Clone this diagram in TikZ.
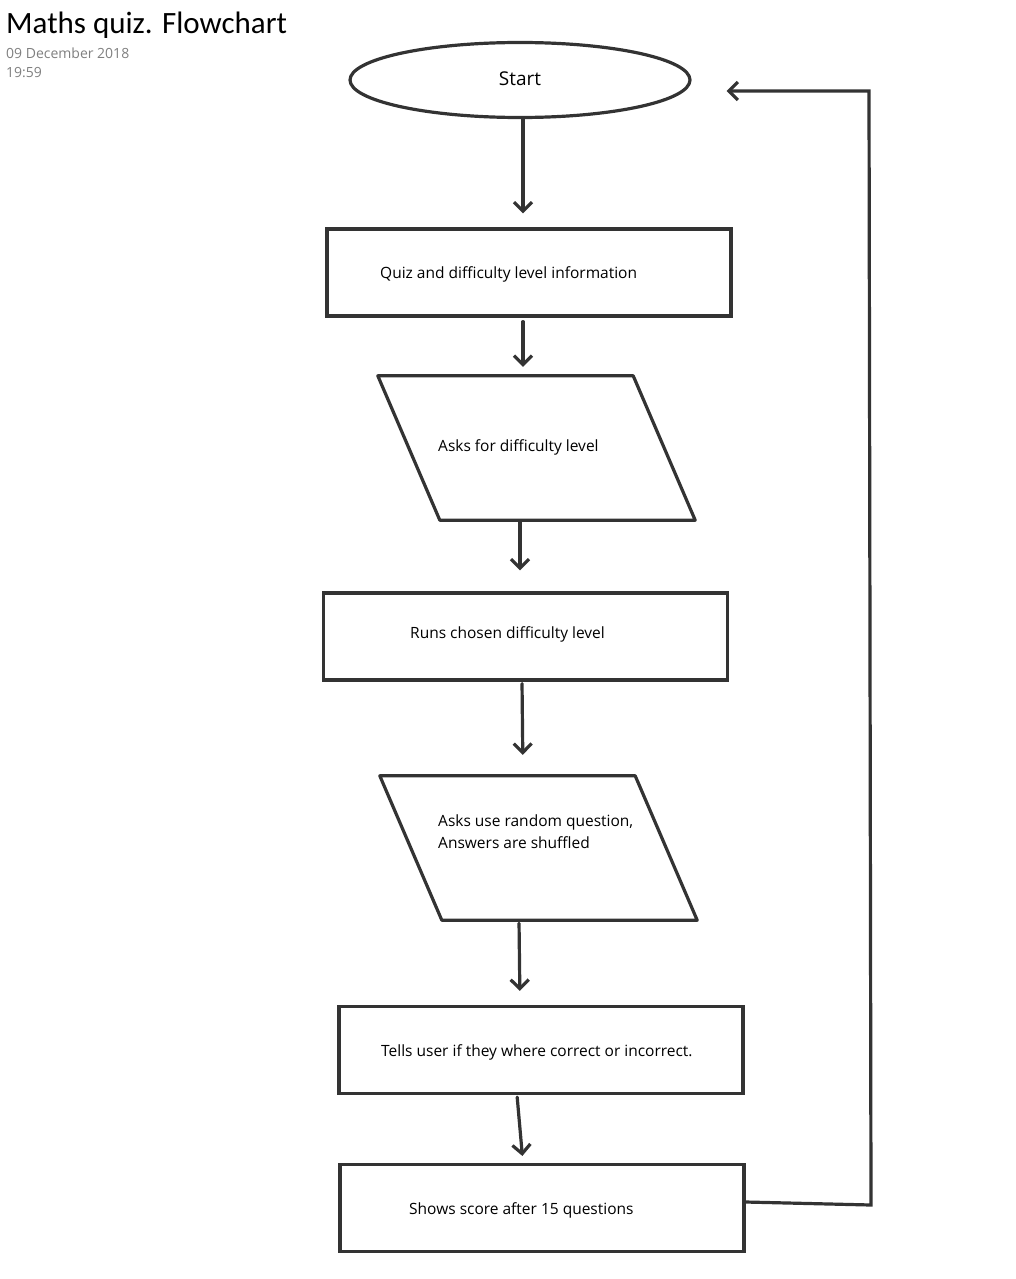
\documentclass[tikz,border=0pt]{standalone}
\usepackage{fontspec}
\setmainfont{Open Sans}
\newfontfamily\titlefont{Carlito}
\usetikzlibrary{shapes.geometric,arrows.meta}

\definecolor{linegrey}{HTML}{333333}
\definecolor{dategrey}{HTML}{7F7F7F}

\begin{document}
\begin{tikzpicture}[x=1pt,y=-1pt,
    procbox/.style={draw=linegrey, line width=3.2pt, rectangle, minimum width=404pt, minimum height=87pt},
    iobox/.style={rectangle, minimum width=255pt, minimum height=144pt, inner sep=0pt},
    iooutline/.style={draw=linegrey, line width=3.2pt, line join=round},
    boxtext/.style={anchor=west, inner sep=0pt, font=\fontsize{15.5}{22}\selectfont, align=left},
    flowarrow/.style={draw=linegrey, line width=3.2pt, line cap=round,
        -{Straight Barb[length=9pt,width=18pt,line width=3.2pt]}}]
                \useasboundingbox (0,0) rectangle (1015,1279);
                % --------
                % Heading
                % --------
                \node[anchor=base west, inner sep=0pt, font=\titlefont\fontsize{31}{33}\selectfont] at (6,34) (title) {Maths quiz. Flowchart};
                \node[anchor=base west, inner sep=0pt, text=dategrey, font=\fontsize{14}{16}\selectfont] at (6,59) (date) {09 December 2018};
                \node[anchor=base west, inner sep=0pt, text=dategrey, font=\fontsize{14}{16}\selectfont] at (6,78) (time) {19:59};

                % --------
                % Shapes
                % --------
                \node[draw=linegrey, line width=3.2pt, ellipse, minimum width=340pt, minimum height=75pt,
                    font=\fontsize{19}{22}\selectfont] at (520,80) (start) {\raisebox{3pt}{Start}};

                \node[procbox] at (529,272.5) (quizinfo) {};
                \node[boxtext] at (380,274) (quizinfotext) {Quiz and difficulty level information};

                \node[iobox] at (536.5,448) (askdiff) {};
                \draw[iooutline] ([xshift=-31pt]askdiff.north west) -- ([xshift=-31pt]askdiff.north east)
                    -- ([xshift=31pt]askdiff.south east) -- ([xshift=31pt]askdiff.south west) -- cycle;
                \node[boxtext] at (438,447) (askdifftext) {Asks for difficulty level};

                \node[procbox] at (525.5,636.5) (runlevel) {};
                \node[boxtext] at (410,634) (runleveltext) {Runs chosen difficulty level};

                \node[iobox] at (538.5,848) (askquestion) {};
                \draw[iooutline] ([xshift=-31pt]askquestion.north west) -- ([xshift=-31pt]askquestion.north east)
                    -- ([xshift=31pt]askquestion.south east) -- ([xshift=31pt]askquestion.south west) -- cycle;
                \node[boxtext] at (438,832) (askquestiontext) {Asks use random question,\\Answers are shuffled};

                \node[procbox] at (541,1050) (feedback) {};
                \node[boxtext] at (381,1052) (feedbacktext) {Tells user if they where correct or incorrect.};

                \node[procbox] at (542,1208) (score) {};
                \node[boxtext] at (409,1210) (scoretext) {Shows score after 15 questions};

                \coordinate (loopbottom) at (871,1205);
                \coordinate (looptop) at (869,91);

                % Draw line
                \draw[flowarrow, shorten >=14pt] ([xshift=3pt]start.south) -- ([xshift=3pt]start.south |- quizinfo.north);
                \draw[flowarrow, shorten <=4pt, shorten >=9pt] ([xshift=-6pt]quizinfo.south) -- ([xshift=-6pt]quizinfo.south |- askdiff.north);
                \draw[flowarrow, shorten <=2pt, shorten >=21pt] ([xshift=-5.5pt]runlevel.north |- askdiff.south) -- ([xshift=-5.5pt]runlevel.north);
                \draw[flowarrow, shorten <=2pt, shorten >=21pt] ([xshift=-3.5pt]runlevel.south) -- ([xshift=-2.5pt]runlevel.south |- askquestion.north);
                \draw[flowarrow, shorten <=3pt, shorten >=14pt] ([xshift=-22pt]feedback.north |- askquestion.south) -- ([xshift=-21pt]feedback.north);
                \draw[flowarrow, shorten <=2pt, shorten >=7pt] ([xshift=-24pt]feedback.south) -- ([xshift=-19pt]score.north);

                \draw[flowarrow, line cap=butt] ([yshift=6pt]score.east) -- (loopbottom) -- (looptop) -- ([xshift=35pt,yshift=-11pt]start.east);
            \end{tikzpicture}
\end{document}
